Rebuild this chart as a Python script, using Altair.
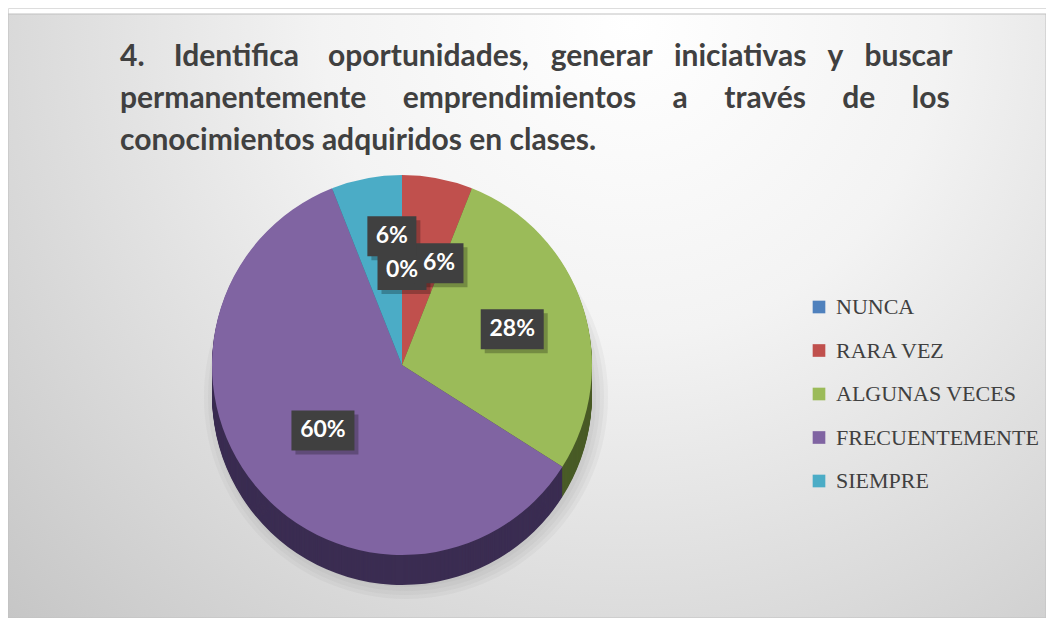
import altair as alt
import pandas as pd

# ---------------- data ----------------
categories = ["NUNCA", "RARA VEZ", "ALGUNAS VECES", "FRECUENTEMENTE", "SIEMPRE"]
percent = [0, 6, 28, 60, 6]
colors = ["#4F81BD", "#C0504D", "#9BBB59", "#8064A2", "#4BACC6"]
side_colors = ["#2E4A70", "#6E2C2A", "#4A5C27", "#3B2D52", "#2B6474"]

title_line_words = [
    ["4.", "Identifica", "oportunidades,", "generar", "iniciativas", "y", "buscar"],
    ["permanentemente", "emprendimientos", "a", "través", "de", "los"],
    ["conocimientos", "adquiridos", "en", "clases."],
]
# extra non-breaking spaces used to justify each title line
title_extra_total = [14, 20, 0]

# ---------------- layout ----------------
W, H = 1038, 610
CX, CY, R, DEPTH = 394, 357, 190, 30
NB = "\u00a0"


def justify(words, total):
    gaps = len(words) - 1
    out = words[0]
    for i, w in enumerate(words[1:]):
        n = total // gaps + (1 if i < total % gaps else 0) if gaps else 0
        out += " " + NB * n + w
    return out


title_lines = [justify(w, t) for w, t in zip(title_line_words, title_extra_total)]

df = pd.DataFrame({"cat": categories, "pct": percent, "idx": list(range(len(categories)))})
title_df = pd.DataFrame({"line": title_lines, "row": list(range(len(title_lines)))})
one = pd.DataFrame({"a": [0]})

gradient = alt.Gradient(
    gradient="radial",
    x1=0.6, y1=0.22, r1=0.0,
    x2=0.6, y2=0.22, r2=0.85,
    stops=[
        alt.GradientStop(offset=0.0, color="#ffffff"),
        alt.GradientStop(offset=0.35, color="#f3f3f3"),
        alt.GradientStop(offset=1.0, color="#c4c4c4"),
    ],
)

bg = alt.Chart(one).mark_rect(fill=gradient, stroke="#c0c0c0", strokeWidth=1).encode(
    x=alt.value(0), x2=alt.value(W), y=alt.value(6), y2=alt.value(H)
)

# soft shadow under the pie
shadow_layers = [
    alt.Chart(one)
    .mark_arc(outerRadius=R + grow, fill="#7a7a7a", opacity=0.07, stroke=None)
    .encode(theta=alt.value(0), theta2=alt.value(6.2832), x=alt.value(CX + 4), y=alt.value(CY + DEPTH + 2))
    for grow in (12, 8, 4, 0)
]

angles = (
    alt.Chart(df)
    .transform_joinaggregate(total="sum(pct)")
    .transform_window(cum="sum(pct)", sort=[alt.SortField("idx")], frame=[None, 0])
    .transform_calculate(
        t0="(datum.cum - datum.pct) / datum.total * 2 * PI",
        t1="datum.cum / datum.total * 2 * PI",
        side_cat="datum.cat",
    )
)

side_layers = [
    angles.mark_arc(outerRadius=R, stroke=None).encode(
        theta=alt.Theta("t0:Q", scale=None),
        theta2=alt.Theta2("t1:Q"),
        x=alt.value(CX),
        y=alt.value(CY + o),
        color=alt.Color("side_cat:N", scale=alt.Scale(domain=categories, range=side_colors), legend=None),
    )
    for o in range(DEPTH, 0, -1)
]
side = alt.layer(*side_layers)

top = angles.mark_arc(outerRadius=R, stroke=None).encode(
    theta=alt.Theta("t0:Q", scale=None),
    theta2=alt.Theta2("t1:Q"),
    x=alt.value(CX),
    y=alt.value(CY),
    color=alt.Color(
        "cat:N",
        scale=alt.Scale(domain=categories, range=colors),
        legend=alt.Legend(
            orient="none",
            legendX=800,
            legendY=288,
            title=None,
            symbolType="square",
            symbolSize=160,
            symbolStrokeWidth=0,
            labelFont="Liberation Serif",
            labelFontSize=22,
            labelColor="#404040",
            labelLimit=400,
            labelOffset=6,
            rowPadding=21.5,
            padding=0,
        ),
    ),
)

labels_base = (
    alt.Chart(df)
    .transform_joinaggregate(total="sum(pct)")
    .transform_window(cum="sum(pct)", sort=[alt.SortField("idx")], frame=[None, 0])
    .transform_calculate(
        mid="(datum.cum - datum.pct / 2) / datum.total * 2 * PI",
        label="format(datum.pct / datum.total, '.0%')",
    )
    .transform_calculate(
        la="datum.mid + (datum.cat == 'SIEMPRE' ? 0.11 : datum.cat == 'RARA VEZ' ? 0.16 : 0)",
        lr="datum.cat == 'SIEMPRE' ? 0.68 : datum.cat == 'NUNCA' ? 0.5 : datum.cat == 'RARA VEZ' ? 0.57 : datum.cat == 'ALGUNAS VECES' ? 0.61 : 0.54",
    )
    .transform_calculate(
        lx=f"{CX} + datum.lr * {R} * sin(datum.la)",
        ly=f"{CY} - datum.lr * {R} * cos(datum.la)",
        bw="21 + 14 * length(datum.label)",
    )
    .transform_calculate(
        x0="datum.lx - datum.bw / 2",
        x1="datum.lx + datum.bw / 2",
        y0="datum.ly - 20",
        y1="datum.ly + 20",
        sx0="datum.lx - datum.bw / 2 + 4",
        sx1="datum.lx + datum.bw / 2 + 4",
        sy0="datum.ly - 20 + 4",
        sy1="datum.ly + 20 + 4",
    )
)

label_shadow = labels_base.mark_rect(fill="#000000", opacity=0.25).encode(
    x=alt.X("sx0:Q", scale=None), x2="sx1:Q", y=alt.Y("sy0:Q", scale=None), y2="sy1:Q"
)
label_box = labels_base.mark_rect(fill="#404040").encode(
    x=alt.X("x0:Q", scale=None), x2="x1:Q", y=alt.Y("y0:Q", scale=None), y2="y1:Q"
)
label_text = labels_base.mark_text(
    font="Lato", fontWeight="bold", fontSize=23, color="#ffffff", align="center", baseline="middle"
).encode(x=alt.X("lx:Q", scale=None), y=alt.Y("ly:Q", scale=None), text="label:N")

title = (
    alt.Chart(title_df)
    .transform_calculate(ty="58 + 42 * datum.row")
    .mark_text(
        font="Lato",
        fontWeight="bold",
        fontSize=30,
        color="#404040",
        align="left",
        baseline="alphabetic",
    )
    .encode(x=alt.value(112), y=alt.Y("ty:Q", scale=None), text="line:N")
)

chart = (
    alt.layer(bg, *shadow_layers, side, top, label_shadow, label_box, label_text, title)
    .resolve_scale(color="independent")
    .properties(width=W, height=H, padding=0, autosize=alt.AutoSizeParams(type="none"))
    .configure_view(stroke=None)
    .configure(background="#ffffff")
)

chart.save("out.html", embed_options={"renderer": "svg", "actions": False})
